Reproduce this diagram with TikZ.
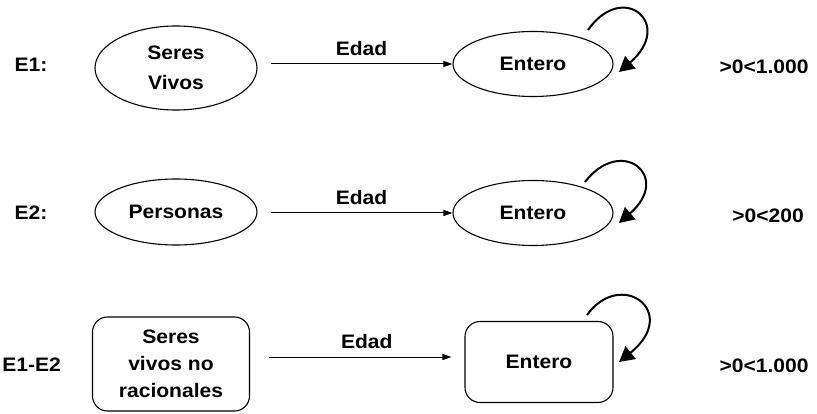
\documentclass[tikz,border=0pt]{standalone}
\usepackage{fontspec}
\setmainfont{Liberation Sans}[FakeStretch=1.08,UprightFont=* Bold]
\usetikzlibrary{shapes.geometric,arrows.meta,calc}
\begin{document}
\begin{tikzpicture}[x=1pt,y=-1pt,
  every node/.style={font=\fontsize{19.5}{27}\selectfont, inner sep=0pt},
  ell/.style={draw, ellipse, line width=1.1pt},
  rbox/.style={draw, rectangle, rounded corners=15pt, line width=1.1pt},
  conn/.style={line width=1pt, -{Triangle[length=9pt,width=6pt]}},
  selfloop/.style={line width=2pt, -{Triangle[length=15pt,width=16pt]}},
  lbl/.style={midway, above=8pt}]
\useasboundingbox (0,0) rectangle (817,414);

% row labels
\node (l1) at (31,65) {E1:};
\node (l2) at (31,213) {E2:};
\node[anchor=east] (l3) at (61,365) {E1-E2};

% left nodes
\node[ell, minimum width=162pt, minimum height=84pt, align=center] (a1) at (176,68) {Seres\\[3pt]Vivos};
\node[ell, minimum width=162pt, minimum height=66pt] (a2) at (176,212) {Personas};
\node[rbox, minimum width=157pt, minimum height=94pt, align=center] (a3) at (171,364) {Seres\\vivos no\\racionales};

% right nodes
\node[ell, minimum width=160pt, minimum height=65pt] (b1) at (533,64) {Entero};
\node[ell, minimum width=160pt, minimum height=65pt] (b2) at (533,213) {Entero};
\node[rbox, minimum width=148pt, minimum height=81pt] (b3) at (539,362) {Entero};

% ranges
\node (c1) at (764,67) {>0<1.000};
\node (c2) at (768,216) {>0<200};
\node (c3) at (764,366) {>0<1.000};

% connectors
\draw[conn] (a1.east |- b1.west) ++(13,0) -- (b1.west) node[lbl] {Edad};
\draw[conn] (a2.east |- b2.west) ++(13,0) -- (b2.west) node[lbl] {Edad};
\coordinate (e3) at ([yshift=5pt]b3.west);
\draw[conn, shorten >=13pt] (a3.east |- e3) ++(19,0) -- (e3) node[lbl] {Edad};

% self loops
\draw[selfloop] ($(b1.center)+(55,-34)$) .. controls ($(b1.center)+(90,-84)$) and ($(b1.center)+(142,-40)$) .. ($(b1.center)+(86,8)$);
\draw[selfloop] ($(b2.center)+(52,-31)$) .. controls ($(b2.center)+(88,-78)$) and ($(b2.center)+(140,-37)$) .. ($(b2.center)+(86,10)$);
\draw[selfloop] ($(b3.center)+(48,-47)$) .. controls ($(b3.center)+(82,-94)$) and ($(b3.center)+(142,-50)$) .. ($(b3.center)+(80,0)$);
\end{tikzpicture}
\end{document}
